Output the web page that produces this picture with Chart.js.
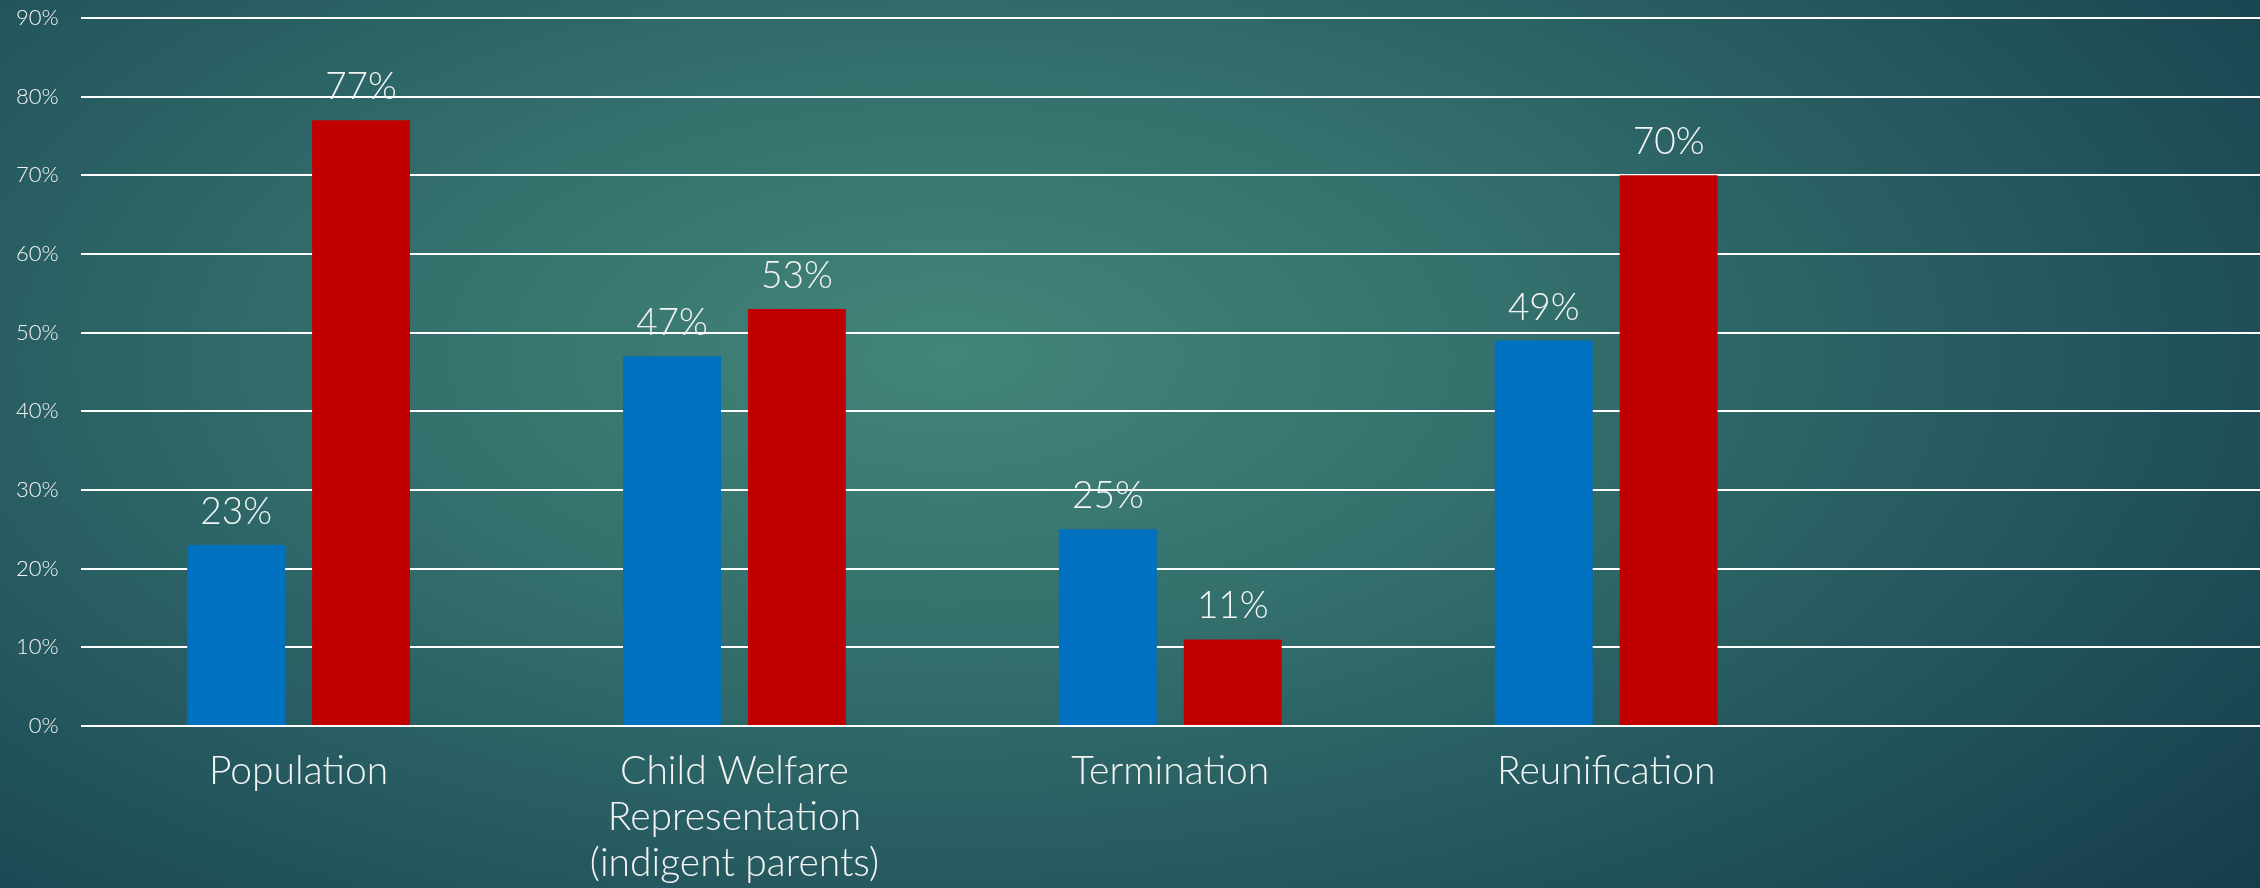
<!DOCTYPE html>
<html>
<head>
<meta charset="utf-8">
<script src="https://cdn.jsdelivr.net/npm/chart.js@4.4.1/dist/chart.umd.min.js"></script>
<style>
  html, body { margin: 0; padding: 0; }
  body {
    width: 2260px; height: 888px; overflow: hidden;
    background: radial-gradient(ellipse 75% 95% at 42% 40%, #438579 0%, #336f6c 35%, #22545c 70%, #163c4c 100%);
  }
  #container { position: relative; width: 2260px; height: 888px; }
</style>
</head>
<body>
<div id="container">
  <canvas id="myChart"></canvas>
</div>
<script>
// categories (the fifth slot is empty in the original)
const categories = [
  'Population',
  ['Child Welfare', 'Representation', '(indigent parents)'],
  'Termination',
  'Reunification',
  ''
];
const seriesBlue = [23, 47, 25, 49, null];
const seriesRed = [77, 53, 11, 70, null];
const yTicks = [0, 10, 20, 30, 40, 50, 60, 70, 80, 90];

const fontName = 'Lato, "Open Sans", sans-serif';

// draws "xx%" above each bar
const valueLabels = {
  id: 'valueLabels',
  afterDatasetsDraw(chart) {
    const ctx = chart.ctx;
    ctx.save();
    ctx.fillStyle = '#f4f4f4';
    ctx.font = '300 37px ' + fontName;
    ctx.textAlign = 'center';
    ctx.textBaseline = 'alphabetic';
    chart.data.datasets.forEach((ds, i) => {
      chart.getDatasetMeta(i).data.forEach((bar, j) => {
        if (ds.data[j] == null) return;
        ctx.fillText(ds.data[j] + '%', bar.x, bar.y - 21);
      });
    });
    ctx.restore();
  }
};

const renderChart = (myChart) => {
  new Chart(myChart, {
    type: 'bar',
    data: {
      labels: categories,
      datasets: [
        {
          label: 'Series 1',
          data: seriesBlue,
          backgroundColor: '#0070c0',
          categoryPercentage: 0.573,
          barPercentage: 0.784
        },
        {
          label: 'Series 2',
          data: seriesRed,
          backgroundColor: '#c00000',
          categoryPercentage: 0.573,
          barPercentage: 0.784
        }
      ]
    },
    options: {
      responsive: false,
      animation: false,
      layout: { padding: { top: 0, left: -6, right: 0, bottom: -20 } },
      plugins: {
        legend: { display: false },
        tooltip: { enabled: false }
      },
      scales: {
        x: {
          grid: { display: false, drawTicks: false },
          border: { display: false },
          ticks: {
            color: '#f4f4f4',
            padding: 22,
            maxRotation: 0,
            autoSkip: false,
            font: { family: fontName, size: 39, weight: '300', lineHeight: 1.18 }
          }
        },
        y: {
          min: 0,
          max: 90,
          afterBuildTicks(axis) {
            axis.ticks = yTicks.map(v => ({ value: v }));
          },
          afterFit(axis) {
            axis.paddingTop = 18;
          },
          grid: { color: '#ffffff', lineWidth: 2, drawTicks: false },
          border: { display: false },
          ticks: {
            color: '#f4f4f4',
            padding: 22,
            callback: v => v + '%',
            font: { family: fontName, size: 22, weight: '300' }
          }
        }
      }
    },
    plugins: [valueLabels]
  });
};

const canvas = document.getElementById('myChart');
canvas.width = 2260;
canvas.height = 888;
renderChart(canvas.getContext('2d'));
</script>
</body>
</html>
